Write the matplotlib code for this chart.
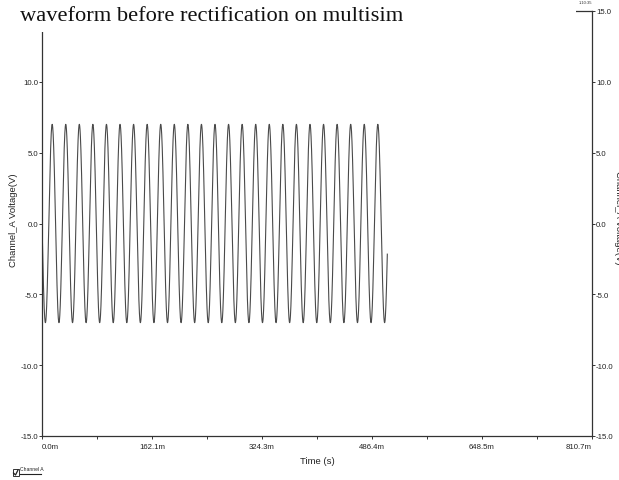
import numpy as np
import matplotlib
matplotlib.use("Agg")
import matplotlib.pyplot as plt
from matplotlib.patches import Rectangle
from matplotlib.lines import Line2D

plt.rcParams['font.family'] = ['Liberation Sans', 'DejaVu Sans']

# values
amplitude_v = 7.0          # crest of Channel A (V)
freq_hz = 50.0             # 24 cycles between 15 ms and 495 ms
t_end_ms = 509.0           # trace stops here
xtick_ms = [0.0, 162.1, 324.3, 486.4, 648.5, 810.7]
xtick_labels = ["0.0m", "162.1m", "324.3m", "486.4m", "648.5m", "810.7m"]
ytick_v = [-15.0, -10.0, -5.0, 0.0, 5.0, 10.0, 15.0]
ytick_labels = ["-15.0", "-10.0", "-5.0", "0.0", "5.0", "10.0", "15.0"]

t = np.linspace(0, t_end_ms, 6000)
v = -amplitude_v * np.sin(2 * np.pi * freq_hz * t / 1000.0)

W, H = 619, 481
fig = plt.figure(figsize=(W / 100, H / 100), dpi=100)
ax = fig.add_axes([42 / W, 1 - 437 / H, 550 / W, 425 / H])

ax.plot(t, v, '-', color='#4a4a4a', linewidth=0.8)
ax.set_xlim(xtick_ms[0], xtick_ms[-1])
ax.set_ylim(ytick_v[0], ytick_v[-1])

for s in ax.spines.values():
    s.set_color('#333333')
    s.set_linewidth(0.9)

ax.set_xticks(xtick_ms)
ax.set_xticklabels(xtick_labels)
ax.set_xticks([(a + b) / 2 for a, b in zip(xtick_ms[:-1], xtick_ms[1:])], minor=True)
labs = ax.get_xticklabels()
labs[0].set_ha('left')
labs[-1].set_ha('right')
ax.set_yticks(ytick_v)
ax.set_yticklabels(ytick_labels)
ax.tick_params(axis='both', which='both', direction='out', length=2.3, width=0.7,
               color='#333333', labelsize=5.6, labelcolor='#222222')
ax.tick_params(axis='y', pad=0.5, right=True, labelright=True)
ax.tick_params(axis='x', pad=2.8)
# the left 15.0 sits under the title box in the screenshot
top = ax.yaxis.get_major_ticks()[-1]
top.label1.set_visible(False)
top.tick1line.set_visible(False)

ax.set_xlabel("Time (s)", fontsize=6.8, color='#222222', labelpad=4)
fig.text(14 / W, 1 - 220 / H, "Channel_A Voltage(V)", rotation=90, fontsize=6.8,
         color='#222222', ha='center', va='center')
fig.text(618 / W, 1 - 218 / H, "Channel_A Voltage(V)", rotation=270, fontsize=6.8,
         color='#222222', ha='center', va='center')

# white box that hides the top of the plot frame behind the title
fig.patches.append(Rectangle((0, 1 - 33 / H), 576 / W, 33 / H, transform=fig.transFigure,
                             facecolor='white', edgecolor='none', zorder=5))
fig.text(20 / W, 1 - 21 / H, "waveform before rectification on multisim",
         fontsize=16.2, family='Liberation Serif', color='#111111', va='baseline', zorder=6)
fig.text(592 / W, 1 - 3 / H, "1:10:35", fontsize=3, color='#333333',
         ha='right', va='center', zorder=6)

# channel legend at the bottom left
fig.patches.append(Rectangle((12.5 / W, 1 - 477 / H), 6 / W, 7.5 / H, transform=fig.transFigure,
                             facecolor='white', edgecolor='#333333', linewidth=0.7))
fig.lines.append(Line2D([13.5 / W, 15.5 / W, 18 / W], [1 - 474 / H, 1 - 476 / H, 1 - 471 / H],
                        transform=fig.transFigure, color='#222222', linewidth=0.9))
fig.text(20 / W, 1 - 470 / H, "Channel A", fontsize=3.6, color='#222222', va='center')
fig.lines.append(Line2D([20 / W, 41 / W], [1 - 475 / H, 1 - 475 / H],
                        transform=fig.transFigure, color='#222222', linewidth=0.8))

fig.savefig("out.png", dpi=100)
